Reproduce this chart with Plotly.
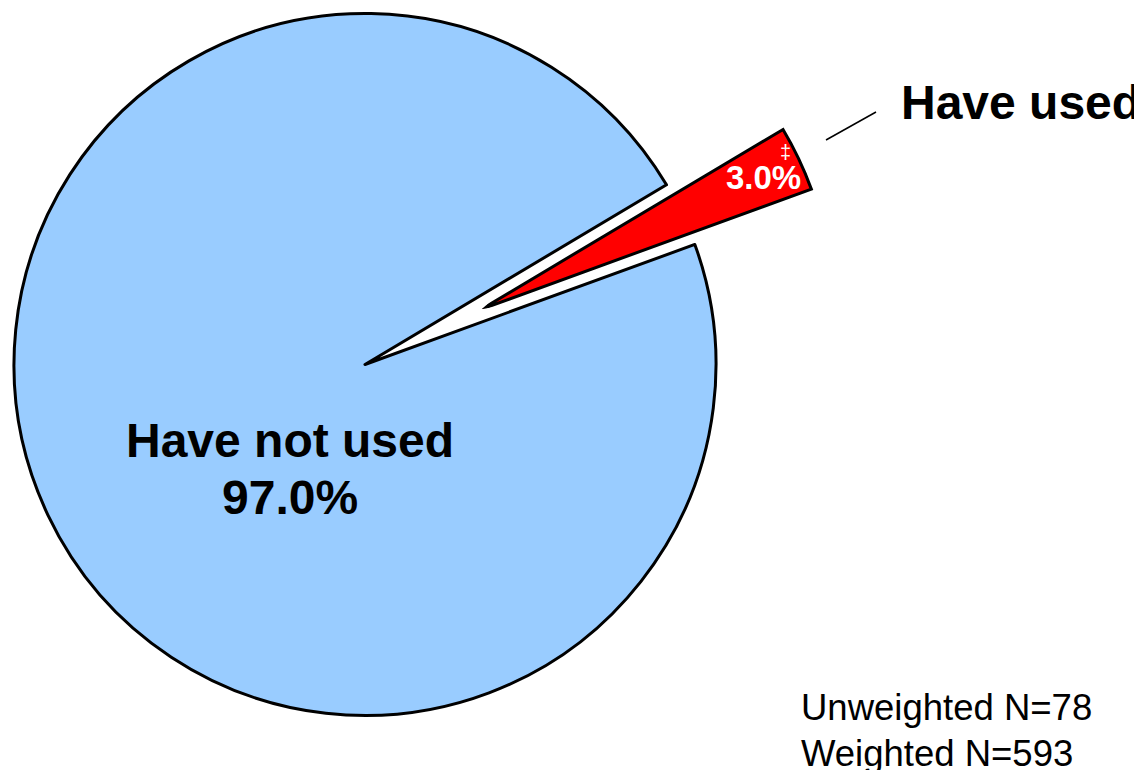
import math
import plotly.graph_objects as go

# ---------------- data ----------------
labels = ["Have used", "Have not used"]
values = [3.0, 97.0]
slice_colors = ["#FF0000", "#99CCFF"]
flag_mark = "‡"
footnote_lines = ["Unweighted N=78", "Weighted N=593"]

# ---------------- styling / geometry ----------------
W, H = 1142, 770
OFF = 8                              # page body margin of the browser
FONT = "Liberation Sans, Arial, sans-serif"
cx, cy, R = 365.0, 364.5, 351.0      # pie centre / radius in page px
start_deg = 20.0                     # where "Have used" begins (CCW from east)
pull_px = 129.0                      # how far the red slice is pulled out
LW = 3

total = sum(values)
share = values[0] / total
a0 = start_deg
a1 = start_deg + share * 360.0
amid = (a0 + a1) / 2.0


def px(x):
    return (x - OFF) / W


def py(y):
    return 1 - (y - OFF) / H


fig = go.Figure()

# blue pie with the "Have used" wedge left empty
fig.add_trace(go.Pie(
    labels=labels, values=values, sort=False, direction="clockwise",
    rotation=90 - a1,
    marker=dict(colors=["rgba(0,0,0,0)", slice_colors[1]],
                line=dict(color=["rgba(0,0,0,0)", "black"], width=[0, LW])),
    textinfo="none", hoverinfo="label+percent", showlegend=False,
    domain=dict(x=[px(cx - R), px(cx + R)], y=[py(cy + R), py(cy - R)]),
))

# exploded red wedge drawn in a polar sector
vx = cx + pull_px * math.cos(math.radians(amid))
vy = cy - pull_px * math.sin(math.radians(amid))
rmax = 1.02
Rp = R * rmax
s0, s1 = a0 - 10.0, a1 + 10.0
bx = max(math.cos(math.radians(s0)), math.cos(math.radians(s1)))
by = max(math.sin(math.radians(s0)), math.sin(math.radians(s1)))

fig.add_trace(go.Barpolar(
    r=[1.0], theta=[amid], width=[share * 360.0],
    marker=dict(color=slice_colors[0], line=dict(color="black", width=LW)),
    name=labels[0], showlegend=False, subplot="polar",
))

fig.update_layout(
    width=W, height=H,
    margin=dict(l=0, r=0, t=0, b=0),
    paper_bgcolor="white", plot_bgcolor="white",
    showlegend=False,
    polar=dict(
        domain=dict(x=[px(vx), px(vx + Rp * bx)], y=[py(vy), py(vy - Rp * by)]),
        sector=[s0, s1],
        bgcolor="rgba(0,0,0,0)",
        radialaxis=dict(range=[0, rmax], visible=False),
        angularaxis=dict(visible=False, direction="counterclockwise", rotation=0),
    ),
)

# connector line to the outside label
fig.add_shape(type="line", xref="paper", yref="paper",
              x0=px(826), y0=py(140), x1=px(876), y1=py(112),
              line=dict(color="black", width=1.5))


def ann(text, x, y, size, color="black", bold=True, xanchor="center"):
    fig.add_annotation(
        text=text, x=px(x), y=py(y), xref="paper", yref="paper",
        xanchor=xanchor, yanchor="middle", showarrow=False,
        font=dict(family=FONT, size=size, color=color,
                  weight="bold" if bold else "normal"),
    )


ann(labels[0], 899, 102.5, 48, xanchor="left")
ann(labels[1], 290, 440, 48)
ann(f"{values[1]:.1f}%", 290, 497.5, 48)
ann(f"{values[0]:.1f}%", 763, 177.5, 33, color="white")
ann(flag_mark, 785, 152, 20, color="white", bold=False)
ann(footnote_lines[0], 799, 707, 36.5, bold=False, xanchor="left")
ann(footnote_lines[1], 799, 753, 36.5, bold=False, xanchor="left")

fig.write_html("out.html")
